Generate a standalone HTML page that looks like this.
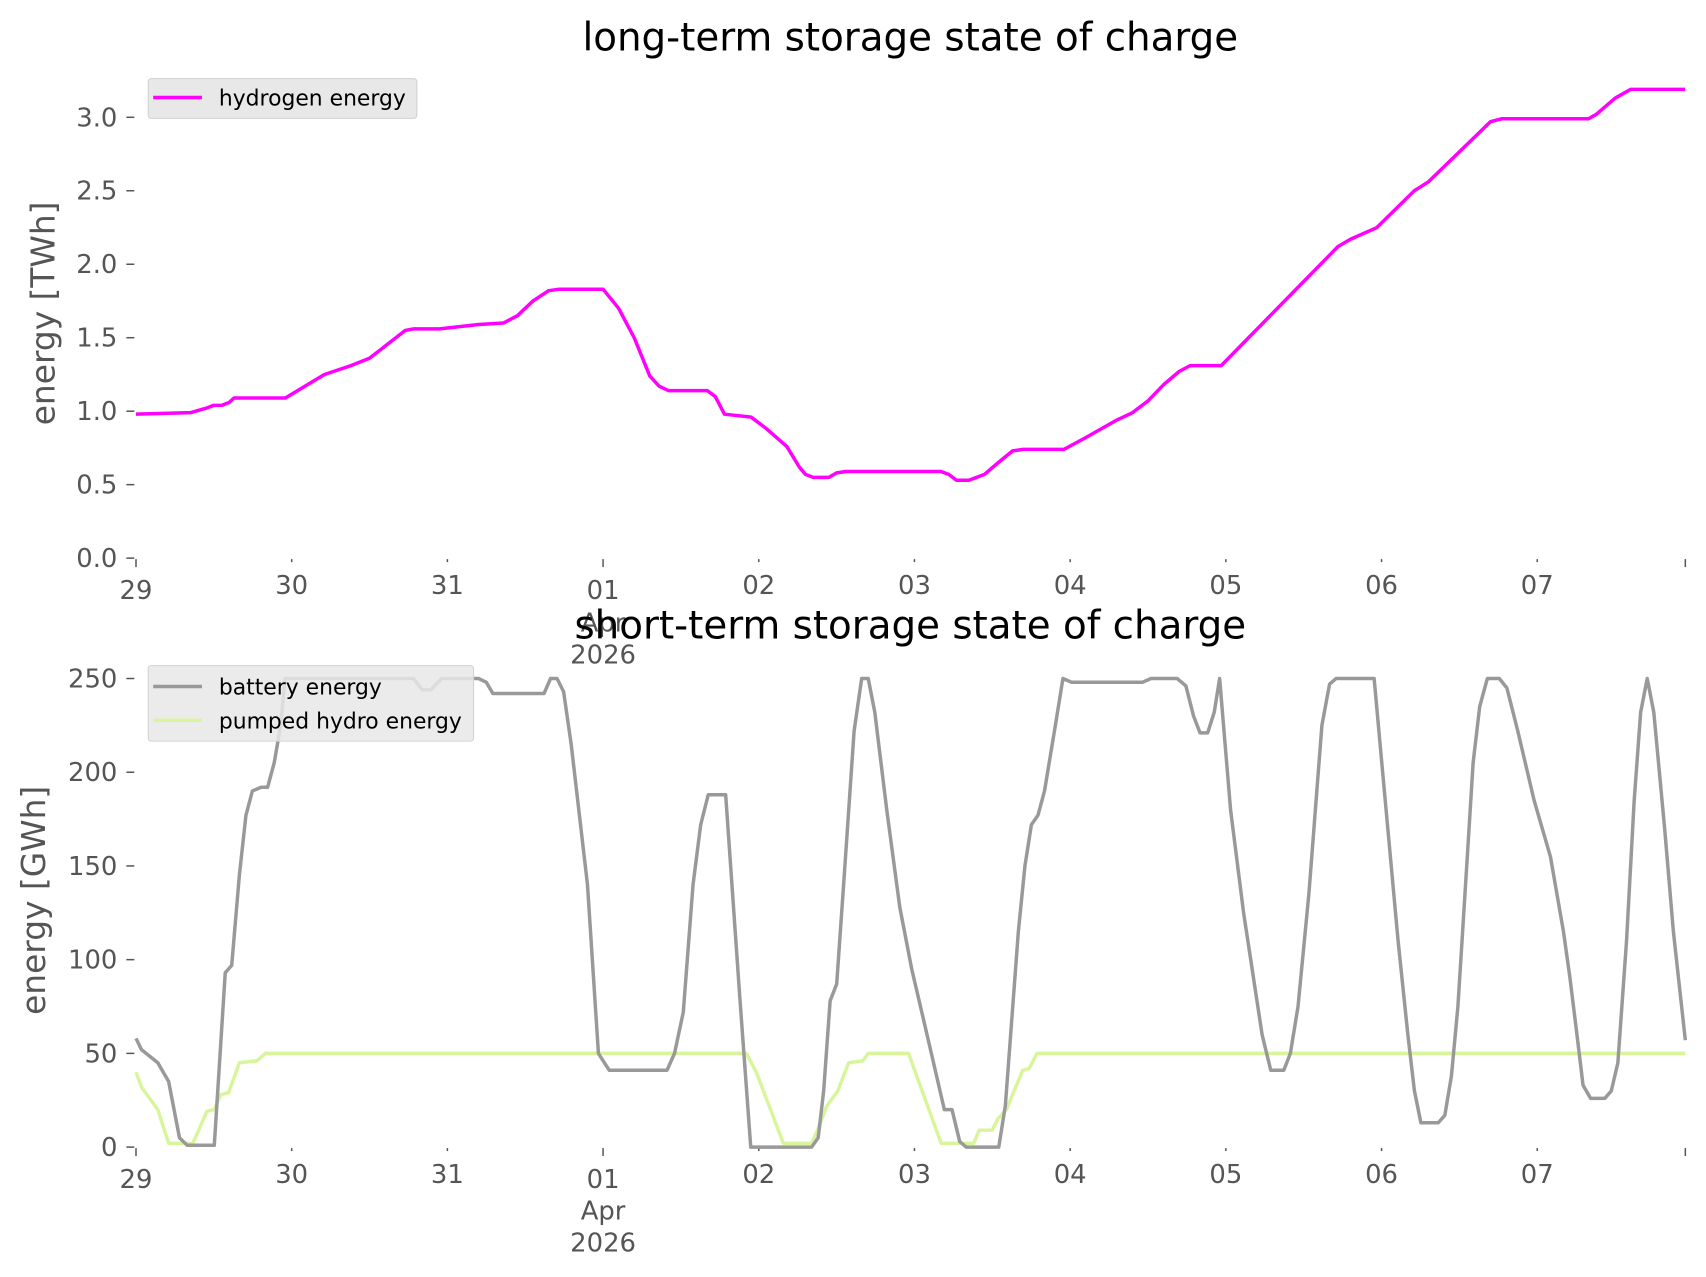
<!DOCTYPE html>
<html><head><meta charset="utf-8"><style>
html,body{margin:0;padding:0;background:#fff;}
svg{display:block;font-family:"DejaVu Sans","Liberation Sans",sans-serif;}
.t{fill:#555;font-size:26px;}
</style></head><body>
<svg id="s" width="1706" height="1277" viewBox="0 0 1706 1277" xmlns="http://www.w3.org/2000/svg">
<rect width="1706" height="1277" fill="#fff"/>
<g transform="scale(0.99488)">
<text x="915" y="51" font-size="39" text-anchor="middle" fill="#000">long-term storage state of charge</text>
<text transform="translate(55,315) rotate(-90)" font-size="33" text-anchor="middle" fill="#555">energy [TWh]</text>
<g class="t" text-anchor="end" id="yl1"></g>
<g id="yt1" stroke="#555" stroke-width="1.5"></g>
<g id="xt1"></g>
<g class="t" text-anchor="middle" id="xl1"></g>
<path id="h2" fill="none" stroke="#ff00ff" stroke-width="3.5" stroke-linejoin="round"/>
<rect x="149" y="79" width="270" height="40" rx="3" fill="#e8e8e8" stroke="#d0d0d0"/>
<line x1="154" x2="203" y1="98" y2="98" stroke="#ff00ff" stroke-width="3.5"/>
<text x="220" y="106" font-size="22" fill="#000">hydrogen energy</text>

<text x="915" y="642" font-size="39" text-anchor="middle" fill="#000">short-term storage state of charge</text>
<text transform="translate(45,905) rotate(-90)" font-size="33" text-anchor="middle" fill="#555">energy [GWh]</text>
<g class="t" text-anchor="end" id="yl2"></g>
<g id="yt2" stroke="#555" stroke-width="1.5"></g>
<g id="xt2"></g>
<g class="t" text-anchor="middle" id="xl2"></g>
<path id="ph" fill="none" stroke="#d9f59c" stroke-width="3.5" stroke-linejoin="round"/>
<path id="bat" fill="none" stroke="#999" stroke-width="3.5" stroke-linejoin="round"/>
<rect x="149" y="669" width="327" height="76" rx="3" fill="#e8e8e8" fill-opacity="0.85" stroke="#d0d0d0"/>
<line x1="154" x2="203" y1="690" y2="690" stroke="#999" stroke-width="3.5"/>
<text x="220" y="698" font-size="22" fill="#000">battery energy</text>
<line x1="154" x2="203" y1="724" y2="724" stroke="#d9f59c" stroke-width="3.5"/>
<text x="220" y="732" font-size="22" fill="#000">pumped hydro energy</text>
</g>
</svg>
<script>
var S=1.0936;
var X=function(xp){return xp*S;};
var D=function(d){return (125+d*143.1)*S;};
function P(pts,fx,fy){return pts.map(function(p,i){return (i?'L':'M')+fx(p[0]).toFixed(1)+' '+fy(p[1]).toFixed(1);}).join(' ');}
var fy1=function(v){return 561-v*147.7;};
var fy2=function(v){return 1153-v*1.884;};
var h=[[0,.98],[.35,.99],[.45,1.02],[.5,1.04],[.55,1.04],[.6,1.06],[.63,1.09],[.96,1.09],[1.21,1.25],[1.38,1.31],[1.5,1.36],[1.73,1.55],[1.78,1.56],[1.95,1.56],[2.2,1.59],[2.36,1.60],[2.45,1.65],[2.55,1.75],[2.65,1.82],[2.72,1.83],[3.0,1.83],[3.1,1.70],[3.2,1.50],[3.3,1.24],[3.36,1.17],[3.42,1.14],[3.67,1.14],[3.72,1.10],[3.78,0.98],[3.95,0.96],[4.05,0.88],[4.18,0.76],[4.26,0.62],[4.3,0.57],[4.35,0.55],[4.45,0.55],[4.5,0.58],[4.56,0.59],[5.17,0.59],[5.22,0.57],[5.27,0.53],[5.35,0.53],[5.45,0.57],[5.55,0.66],[5.63,0.73],[5.7,0.74],[5.96,0.74],[6.1,0.82],[6.3,0.94],[6.4,0.99],[6.5,1.07],[6.6,1.18],[6.7,1.27],[6.77,1.31],[6.97,1.31],[7.72,2.12],[7.8,2.17],[7.97,2.25],[8.21,2.5],[8.3,2.56],[8.7,2.97],[8.77,2.99],[9.33,2.99],[9.38,3.02],[9.5,3.13],[9.6,3.19],[9.95,3.19]];
document.getElementById('h2').setAttribute('d',P(h,D,fy1));
var b=[[125,58],[130,52],[145,45],[155,35],[165,5],[172,1],[197,1],[207,93],[213,97],[220,145],[226,177],[232,190],[240,192],[246,192],[252,205],[258,225],[262,250],[380,250],[388,244],[396,244],[406,250],[440,250],[447,248],[453,242],[500,242],[506,250],[512,250],[518,243],[525,215],[540,140],[550,50],[560,41],[613,41],[620,50],[628,72],[637,140],[644,172],[651,188],[667,188],[680,80],[690,0],[746,0],[752,5],[757,30],[763,78],[769,87],[776,145],[785,222],[792,250],[798,250],[804,232],[815,180],[827,128],[838,95],[850,65],[860,40],[868,20],[875,20],[882,3],[888,0],[918,0],[924,22],[936,115],[942,150],[948,172],[954,177],[960,190],[970,225],[977,250],[985,248],[1050,248],[1058,250],[1082,250],[1090,246],[1097,230],[1103,221],[1110,221],[1116,232],[1121,250],[1131,180],[1143,125],[1160,60],[1168,41],[1180,41],[1186,50],[1193,75],[1203,135],[1215,225],[1222,247],[1228,250],[1263,250],[1270,205],[1285,110],[1294,60],[1300,30],[1306,13],[1322,13],[1328,17],[1334,38],[1340,75],[1347,140],[1354,205],[1360,235],[1367,250],[1378,250],[1385,245],[1395,222],[1410,185],[1425,155],[1437,115],[1443,90],[1449,62],[1455,33],[1462,26],[1475,26],[1481,30],[1487,45],[1495,110],[1502,185],[1508,232],[1514,250],[1520,232],[1530,170],[1538,115],[1549,57]];
var ph=[[125,40],[130,32],[145,20],[155,2],[177,2],[182,8],[190,19],[197,20],[203,28],[210,29],[220,45],[236,46],[244,50],[686,50],[695,40],[720,2],[746,2],[752,10],[760,22],[770,30],[780,45],[793,46],[798,50],[835,50],[865,2],[895,2],[900,9],[912,9],[917,15],[925,20],[940,41],[946,42],[953,50],[1549,50]];
document.getElementById('bat').setAttribute('d',P(b,X,fy2));
document.getElementById('ph').setAttribute('d',P(ph,X,fy2));
var s='',t='';
['0.0','0.5','1.0','1.5','2.0','2.5','3.0'].forEach(function(l,i){var y=fy1(i*0.5);s+='<text x="118" y="'+(y+9)+'">'+l+'</text>';t+='<line x1="127" x2="135" y1="'+y+'" y2="'+y+'"/>';});
document.getElementById('yl1').innerHTML=s;document.getElementById('yt1').innerHTML=t;
s='';t='';
[0,50,100,150,200,250].forEach(function(v){var y=fy2(v);s+='<text x="118" y="'+(y+9)+'">'+v+'</text>';t+='<line x1="127" x2="135" y1="'+y+'" y2="'+y+'"/>';});
document.getElementById('yl2').innerHTML=s;document.getElementById('yt2').innerHTML=t;
var labs=['29','30','31','01','02','03','04','05','06','07'],t1='',t2='',l1='',l2='';
for(var i=0;i<=10;i++){var x=D(i);if(i==10)x=1694;var l=(i==0||i==3||i==10)?8:3;
t1+='<line x1="'+x+'" x2="'+x+'" y1="562" y2="'+(562+l)+'" stroke="#555" stroke-width="1.5"/>';
t2+='<line x1="'+x+'" x2="'+x+'" y1="1154" y2="'+(1154+l)+'" stroke="#555" stroke-width="1.5"/>';
if(i<10){var big=(i==0||i==3);l1+='<text x="'+x+'" y="'+(big?602:597)+'">'+labs[i]+'</text>';l2+='<text x="'+x+'" y="'+(big?1194:1189)+'">'+labs[i]+'</text>';}}
var xa=D(3);
l1+='<text x="'+xa+'" y="635">Apr</text><text x="'+xa+'" y="667">2026</text>';
l2+='<text x="'+xa+'" y="1226">Apr</text><text x="'+xa+'" y="1258">2026</text>';
document.getElementById('xt1').innerHTML=t1;document.getElementById('xt2').innerHTML=t2;
document.getElementById('xl1').innerHTML=l1;document.getElementById('xl2').innerHTML=l2;
</script>
</body></html>
